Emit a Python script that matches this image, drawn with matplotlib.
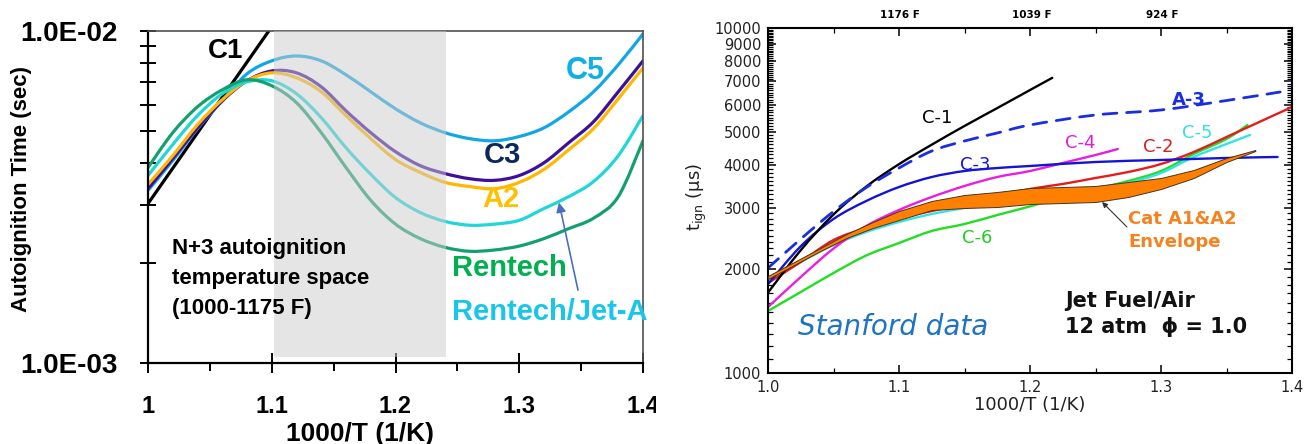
import numpy as np
import matplotlib
matplotlib.use("Agg")
import matplotlib.pyplot as plt
from matplotlib.patches import Rectangle, PathPatch
from matplotlib.path import Path
from matplotlib.ticker import FixedLocator, FixedFormatter, NullFormatter
from matplotlib.transforms import Bbox, TransformedBbox

plt.rcParams['font.family'] = ['DejaVu Sans']

# ------------------------------------------------------------------
# Left panel: modelled autoignition time (ms) vs 1000/T
# ------------------------------------------------------------------
inv_t = [1.00, 1.02, 1.04, 1.06, 1.08, 1.10, 1.12, 1.14, 1.16, 1.18, 1.20,
         1.22, 1.24, 1.26, 1.28, 1.30, 1.32, 1.34, 1.36, 1.38, 1.40]

c1_x = [1.00, 1.10]
c1_ms = [3.02, 10.3]
c5_ms = [3.31, 4.07, 5.08, 6.16, 7.43, 8.13, 8.41, 8.13, 7.38, 6.56, 5.83,
         5.29, 4.94, 4.74, 4.67, 4.81, 5.11, 5.71, 6.56, 7.91, 9.80]
c3_ms = [3.35, 4.13, 5.11, 6.16, 7.08, 7.58, 7.48, 6.79, 5.75, 4.94, 4.33,
         3.93, 3.72, 3.59, 3.55, 3.67, 4.01, 4.61, 5.33, 6.56, 8.13]
a2_ms = [3.45, 4.21, 5.22, 6.21, 7.08, 7.48, 7.23, 6.56, 5.56, 4.74, 4.10,
         3.75, 3.50, 3.40, 3.35, 3.50, 3.83, 4.39, 5.08, 6.25, 7.74]
jet_ms = [3.67, 4.55, 5.56, 6.47, 7.03, 7.08, 6.47, 5.48, 4.45, 3.70, 3.15,
          2.84, 2.67, 2.60, 2.62, 2.69, 2.92, 3.17, 3.52, 4.21, 5.56]
rentech_ms = [3.88, 4.94, 5.91, 6.65, 7.13, 6.84, 6.08, 4.94, 3.88, 3.09, 2.62,
              2.37, 2.23, 2.17, 2.19, 2.25, 2.37, 2.54, 2.73, 3.17, 4.67]

shade_x = (1.1015, 1.241)          # N+3 temperature window
shade_t = (1.042e-3, 1.0e-2)

# ------------------------------------------------------------------
# Right panel: Stanford shock-tube ignition delay (microseconds)
# ------------------------------------------------------------------
s_c1_x = [1.000, 1.025, 1.050, 1.075, 1.100, 1.125, 1.150, 1.175, 1.200, 1.217]
s_c1_us = [1710, 2270, 2880, 3470, 4030, 4590, 5200, 5860, 6610, 7170]

s_a3_x = [1.000, 1.025, 1.050, 1.075, 1.100, 1.125, 1.150, 1.175, 1.200,
          1.250, 1.300, 1.350, 1.391]
s_a3_us = [2015, 2446, 2939, 3449, 3928, 4400, 4704, 4962, 5234,
           5596, 5786, 6163, 6524]

s_c3_x = [1.000, 1.025, 1.050, 1.075, 1.100, 1.125, 1.150, 1.175, 1.200,
          1.250, 1.300, 1.350, 1.389]
s_c3_us = [1810, 2330, 2795, 3152, 3460, 3699, 3850, 3928, 3981,
           4089, 4144, 4200, 4228]

s_c4_x = [1.000, 1.025, 1.050, 1.075, 1.100, 1.125, 1.150, 1.175, 1.200,
          1.225, 1.250, 1.267]
s_c4_us = [1553, 1898, 2295, 2667, 2968, 3237, 3484, 3699, 3850,
           4062, 4284, 4459]

s_c2_x = [1.000, 1.025, 1.050, 1.075, 1.100, 1.125, 1.150, 1.175, 1.200,
          1.225, 1.250, 1.275, 1.300, 1.325, 1.350, 1.375, 1.400]
s_c2_us = [1823, 2098, 2429, 2632, 2814, 2948, 3089, 3259, 3415,
           3531, 3675, 3825, 4034, 4371, 4831, 5340, 5902]

s_c5_x = [1.000, 1.025, 1.050, 1.075, 1.100, 1.125, 1.150, 1.175, 1.200,
          1.225, 1.250, 1.275, 1.300, 1.325, 1.350, 1.368]
s_c5_us = [1860, 2098, 2350, 2563, 2740, 2890, 3008, 3131, 3237,
           3325, 3420, 3560, 3799, 4228, 4611, 4897]

s_c6_x = [1.000, 1.025, 1.050, 1.075, 1.100, 1.125, 1.150, 1.175, 1.200,
          1.225, 1.250, 1.275, 1.300, 1.325, 1.350, 1.366]
s_c6_us = [1513, 1717, 1949, 2191, 2381, 2580, 2703, 2870, 3040,
           3237, 3415, 3602, 3850, 4313, 4768, 5234]

env_x = [1.000, 1.040, 1.060, 1.080, 1.100, 1.125, 1.150, 1.175, 1.200,
         1.225, 1.250, 1.275, 1.300, 1.325, 1.350, 1.372]
env_upper = [1911, 2303, 2529, 2740, 2948, 3152, 3281, 3347, 3437,
             3460, 3484, 3578, 3675, 3876, 4200, 4430]
env_lower = [1873, 2258, 2462, 2632, 2777, 2968, 3008, 3028, 3089,
             3110, 3131, 3237, 3415, 3675, 4089, 4400]

y_ticks_us = [1000, 2000, 3000, 4000, 5000, 6000, 7000, 8000, 9000, 10000]
top_temps_f = [1176, 1039, 924]


def smooth_path(x, y):
    """Smoothed (Catmull-Rom Bezier) path through the points, built in
    (x, log10 y) so it stays smooth on a log axis."""
    X = np.asarray(x, float)
    Y = np.log10(np.asarray(y, float))
    P = np.column_stack([X, Y])
    n = len(P)
    verts = [P[0]]
    codes = [Path.MOVETO]
    for i in range(n - 1):
        p0 = P[i - 1] if i > 0 else P[i]
        p1, p2 = P[i], P[i + 1]
        p3 = P[i + 2] if i + 2 < n else P[i + 1]
        verts += [p1 + (p2 - p0) / 6.0, p2 - (p3 - p1) / 6.0, p2]
        codes += [Path.CURVE4] * 3
    V = np.array(verts)
    V[:, 1] = 10.0 ** V[:, 1]
    return Path(V, codes)


def smooth_line(ax, x, y, **kw):
    patch = PathPatch(smooth_path(x, y), fill=False, transform=ax.transData,
                      capstyle='round', joinstyle='round', **kw)
    ax.add_patch(patch)
    return patch


# ------------------------------------------------------------------
W, H = 1315, 444
fig = plt.figure(figsize=(W / 100, H / 100), dpi=100)

LFONT = 'Liberation Sans'

# ======================= left panel ===============================
axL = fig.add_axes([148 / W, 1 - 363 / H, (643 - 148) / W, (363 - 31) / H])
axL.set_yscale('log')
axL.set_xlim(1.0, 1.4)
axL.set_ylim(1e-3, 1e-2)

ms = 1e-3
lw = 2.3
axL.plot(c1_x, np.array(c1_ms) * ms, color='black', lw=lw, zorder=2)
smooth_line(axL, inv_t, np.array(c5_ms) * ms, edgecolor='#12a6e6', lw=lw, zorder=2)
smooth_line(axL, inv_t, np.array(c3_ms) * ms, edgecolor='#3d0f9a', lw=lw, zorder=2)
smooth_line(axL, inv_t, np.array(a2_ms) * ms, edgecolor='#ffb700', lw=lw, zorder=2)
smooth_line(axL, inv_t, np.array(jet_ms) * ms, edgecolor='#1fd6d8', lw=lw, zorder=2)
smooth_line(axL, inv_t, np.array(rentech_ms) * ms, edgecolor='#13a06f', lw=lw, zorder=2)

axL.add_patch(Rectangle((shade_x[0], shade_t[0]), shade_x[1] - shade_x[0],
                        shade_t[1] - shade_t[0], facecolor='#cdcdcd',
                        edgecolor='none', alpha=0.5, zorder=3))

axL.yaxis.set_major_locator(FixedLocator([1e-3, 1e-2]))
axL.yaxis.set_major_formatter(FixedFormatter(['1.0E-03', '1.0E-02']))
axL.yaxis.set_minor_locator(FixedLocator([k * 1e-3 for k in range(2, 10)]))
axL.yaxis.set_minor_formatter(NullFormatter())
axL.xaxis.set_major_locator(FixedLocator([1.0, 1.1, 1.2, 1.3, 1.4]))
axL.xaxis.set_major_formatter(FixedFormatter(['1', '1.1', '1.2', '1.3', '1.4']))
axL.xaxis.set_minor_locator(FixedLocator([1.05, 1.15, 1.25, 1.35]))

axL.tick_params(axis='y', which='both', direction='inout', length=12,
                width=1.4, pad=16, labelsize=20, labelfontfamily=LFONT)
axL.tick_params(axis='x', which='major', direction='inout', length=14,
                width=1.4, pad=16, labelsize=17, labelfontfamily=LFONT)
axL.tick_params(axis='x', which='minor', direction='out', length=5.5, width=1.4)

for side in ('left', 'bottom'):
    axL.spines[side].set_linewidth(1.6)
    axL.spines[side].set_color('black')
for side in ('top', 'right'):
    axL.spines[side].set_linewidth(1.2)
    axL.spines[side].set_color('#505050')

clip = TransformedBbox(Bbox([[0, 0], [656 / W, 1]]), fig.transFigure)
for lbl in axL.get_xticklabels() + axL.get_yticklabels():
    lbl.set_fontweight('bold')
for lbl in axL.get_xticklabels():
    lbl.set_clip_box(clip)
    lbl.set_clip_on(True)

tkw = dict(family=LFONT, fontweight='bold', zorder=5)
axL.text(1.063, 8.71e-3, 'C1', color='black', fontsize=20, ha='center', va='center', **tkw)
axL.text(1.353, 7.58e-3, 'C5', color='#12aee8', fontsize=22, ha='center', va='center', **tkw)
axL.text(1.286, 4.24e-3, 'C3', color='#0c2858', fontsize=21, ha='center', va='center', **tkw)
axL.text(1.285, 3.11e-3, 'A2', color='#ffc000', fontsize=21, ha='center', va='center', **tkw)
axL.text(1.2457, 1.93e-3, 'Rentech', color='#00b050', fontsize=21, ha='left', va='center', **tkw)
axL.text(1.2457, 1.42e-3, 'Rentech/Jet-A', color='#18c6ea', fontsize=21, ha='left', va='center', **tkw)
axL.text(1.0194, 2.215e-3, 'N+3 autoignition', color='black', fontsize=16, ha='left', va='center', **tkw)
axL.text(1.0194, 1.800e-3, 'temperature space', color='black', fontsize=16, ha='left', va='center', **tkw)
axL.text(1.0194, 1.463e-3, '(1000-1175 F)', color='black', fontsize=16, ha='left', va='center', **tkw)

axL.annotate('', xy=(1.3321, 3.044e-3), xytext=(1.3475, 1.657e-3),
             arrowprops=dict(arrowstyle='-|>', color='#4a70bd', lw=1.2,
                             mutation_scale=14, shrinkA=0, shrinkB=0),
             zorder=5)

fig.text(22 / W, 1 - 189 / H, 'Autoignition Time (sec)', rotation=90,
         ha='center', va='center', fontsize=16, family=LFONT, fontweight='bold')
fig.text(360 / W, 3 / H, '1000/T (1/K)', ha='center', va='baseline',
         fontsize=19, family=LFONT, fontweight='bold')

# ======================= right panel ==============================
axR = fig.add_axes([768 / W, 1 - 373 / H, (1292 - 768) / W, (373 - 28) / H])
axR.set_yscale('log')
axR.set_xlim(1.0, 1.4)
axR.set_ylim(1000, 10000)

rl = 1.7
smooth_line(axR, s_c6_x, s_c6_us, edgecolor='#22dd22', lw=rl, zorder=2)
smooth_line(axR, s_c5_x, s_c5_us, edgecolor='#33e3e8', lw=rl, zorder=2)
smooth_line(axR, s_c2_x, s_c2_us, edgecolor='#e51c1c', lw=rl, zorder=2)
smooth_line(axR, s_c4_x, s_c4_us, edgecolor='#e81ee0', lw=rl, zorder=2)
smooth_line(axR, s_c3_x, s_c3_us, edgecolor='#1414d4', lw=rl, zorder=2)
smooth_line(axR, s_c1_x, s_c1_us, edgecolor='black', lw=rl, zorder=2)
smooth_line(axR, s_a3_x, s_a3_us, edgecolor='#1a2ee0', lw=2.0,
            linestyle=(0, (5, 3.5)), zorder=2)
axR.fill_between(env_x, env_lower, env_upper, facecolor='#ff8000',
                 edgecolor='#4a3420', lw=0.7, zorder=3)

axR.yaxis.set_major_locator(FixedLocator(y_ticks_us))
axR.yaxis.set_major_formatter(FixedFormatter([str(v) for v in y_ticks_us]))
axR.yaxis.set_minor_locator(FixedLocator([v for v in range(1100, 10000, 100)
                                          if v % 1000]))
axR.yaxis.set_minor_formatter(NullFormatter())
axR.xaxis.set_major_locator(FixedLocator([1.0, 1.1, 1.2, 1.3, 1.4]))
axR.xaxis.set_major_formatter(FixedFormatter(['1.0', '1.1', '1.2', '1.3', '1.4']))
axR.xaxis.set_minor_locator(FixedLocator([1.05, 1.15, 1.25, 1.35]))

axR.tick_params(axis='both', which='major', direction='in', length=6,
                width=1.1, top=True, right=True, labelsize=10.5,
                labelcolor='#222222')
axR.tick_params(axis='y', which='major', pad=5)
axR.tick_params(axis='x', which='major', pad=5)
axR.tick_params(axis='both', which='minor', direction='in', length=3.5,
                width=0.9, top=True, right=True)
for side in axR.spines:
    axR.spines[side].set_linewidth(1.5)

sec = axR.secondary_xaxis('top')
sec.set_xticks([1000.0 / ((f - 32) * 5 / 9 + 273.15) for f in top_temps_f],
               labels=[f'{f} F' for f in top_temps_f])
sec.tick_params(length=0, pad=6, labelsize=7.5)
sec.spines['top'].set_visible(False)
for lbl in sec.get_xticklabels():
    lbl.set_fontweight('bold')

rkw = dict(fontsize=13, ha='center', va='center', zorder=5)
axR.text(1.129, 5480, 'C-1', color='black', **rkw)
axR.text(1.158, 4010, 'C-3', color='#1414d4', **rkw)
axR.text(1.160, 2462, 'C-6', color='#22cc22', **rkw)
axR.text(1.238, 4642, 'C-4', color='#e01ed8', **rkw)
axR.text(1.2977, 4520, 'C-2', color='#d42020', **rkw)
axR.text(1.328, 4962, 'C-5', color='#33e0e8', **rkw)
axR.text(1.3214, 6185, 'A-3', color='#1a2ee0', fontweight='bold', **rkw)

axR.text(1.2748, 2795, 'Cat A1&A2', color='#f58220', fontsize=13,
         fontweight='bold', ha='left', va='center')
axR.text(1.2748, 2397, 'Envelope', color='#f58220', fontsize=13,
         fontweight='bold', ha='left', va='center')
axR.annotate('', xy=(1.255, 3131), xytext=(1.274, 2650),
             arrowprops=dict(arrowstyle='-|>', color='#333333', lw=0.8,
                             mutation_scale=8, shrinkA=0, shrinkB=0),
             zorder=5)

axR.text(1.2267, 1617, 'Jet Fuel/Air', color='#111111', fontsize=15,
         fontweight='bold', ha='left', va='center')
axR.text(1.2267, 1359, '12 atm  \u03d5 = 1.0', color='#111111', fontsize=15,
         fontweight='bold', ha='left', va='center')
axR.text(1.0229, 1359, 'Stanford data', color='#1f72c4', fontsize=20,
         style='italic', ha='left', va='center')

fig.text(697 / W, 1 - 197 / H, '$\\mathregular{t_{ign}}$ (\u00b5s)', rotation=90,
         ha='center', va='center', fontsize=13, color='#222222')
fig.text(1030 / W, 1 - 405 / H, '1000/T (1/K)', ha='center', va='center',
         fontsize=13, color='#222222')

fig.savefig('out.png', dpi=100)
